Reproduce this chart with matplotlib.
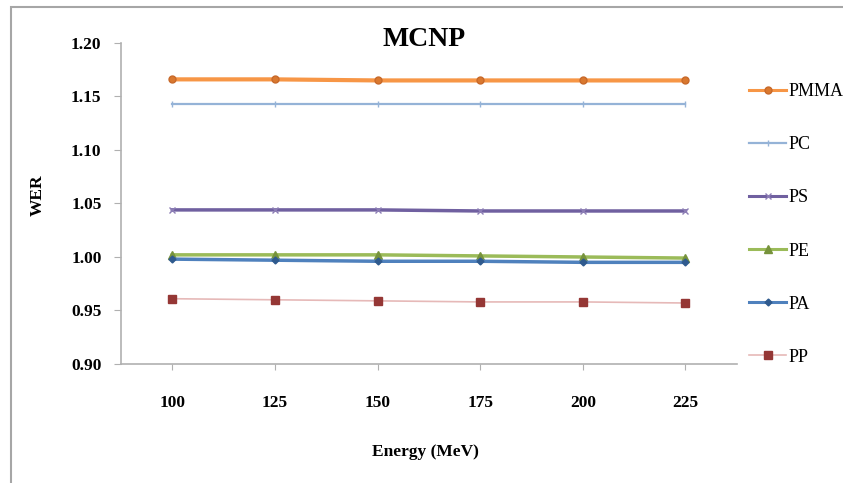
import matplotlib
matplotlib.use("Agg")
import matplotlib.pyplot as plt
from matplotlib.patches import Rectangle

# energies in MeV, shown as categories
energies = ["100", "125", "150", "175", "200", "225"]

pmma = [1.166, 1.166, 1.165, 1.165, 1.165, 1.165]
pc = [1.143, 1.143, 1.143, 1.143, 1.143, 1.143]
ps = [1.044, 1.044, 1.044, 1.043, 1.043, 1.043]
pe = [1.002, 1.002, 1.002, 1.001, 1.000, 0.999]
pa = [0.998, 0.997, 0.996, 0.996, 0.995, 0.995]
pp = [0.961, 0.960, 0.959, 0.958, 0.958, 0.957]

yticks = [0.90, 0.95, 1.00, 1.05, 1.10, 1.15, 1.20]

serif = "Liberation Serif"


def main():
    fig = plt.figure(figsize=(8.43, 4.83), dpi=100)
    ax = fig.add_axes([0.1435, 0.2464, 0.7305, 0.6646])

    # outer chart frame
    fig.patches.append(Rectangle((11 / 843, -0.05), 1.2, 1 - 7 / 483 + 0.05,
                                 transform=fig.transFigure, fill=False,
                                 edgecolor="#a6a6a6", lw=1.5))

    ax.plot(energies, pmma, color="#F79646", lw=3, marker="o", ms=5,
            mfc="#D9782F", mec="#C8692A", label="PMMA")
    ax.plot(energies, pc, color="#95B3D7", lw=1.6, marker="|", ms=5,
            mec="#95B3D7", label="PC")
    ax.plot(energies, ps, color="#7060A0", lw=2.5, marker="x", ms=4,
            mec="#8C7DB5", label="PS")
    ax.plot(energies, pe, color="#9BBB59", lw=2.5, marker="^", ms=6,
            mfc="#77933C", mec="#77933C", label="PE")
    ax.plot(energies, pa, color="#4F81BD", lw=2.5, marker="D", ms=3.5,
            mfc="#2F5A8E", mec="#2F5A8E", label="PA")
    ax.plot(energies, pp, color="#E6B9B8", lw=1.2, marker="s", ms=5.5,
            mfc="#953735", mec="#953735", label="PP")

    ax.set_xlim(-0.5, 5.5)
    ax.set_ylim(0.90, 1.20)
    ax.set_yticks(yticks)
    ax.set_yticklabels(["%.2f" % v for v in yticks])

    for s in ["top", "right"]:
        ax.spines[s].set_visible(False)
    for s in ["left", "bottom"]:
        ax.spines[s].set_color("#b0b0b0")
        ax.spines[s].set_linewidth(1.2)

    ax.tick_params(axis="y", length=5, color="#b0b0b0", pad=9)
    ax.tick_params(axis="x", length=4, color="#b0b0b0", pad=18)
    for lab in ax.get_xticklabels() + ax.get_yticklabels():
        lab.set_fontfamily(serif)
        lab.set_fontweight("bold")
        lab.set_fontsize(12.5)

    fig.text(424 / 843, 1 - 40 / 483, "MCNP", family=serif, weight="bold",
             fontsize=20, ha="center", va="center")
    fig.text(38 / 843, 1 - 195 / 483, "WER", family=serif, weight="bold",
             fontsize=12.5, rotation=90, ha="center", va="center")
    fig.text(425 / 843, 1 - 452 / 483, "Energy (MeV)", family=serif,
             weight="bold", fontsize=12.5, ha="center", va="center")

    leg = ax.legend(loc="upper left", bbox_to_anchor=(742 / 843, 1 - 76 / 483),
                    bbox_transform=fig.transFigure, frameon=False,
                    prop={"family": serif, "size": 13}, handlelength=2.05,
                    handletextpad=0.1, labelspacing=2.0, borderaxespad=0)
    for h in leg.get_lines():
        h.set_linewidth(min(h.get_linewidth(), 2.2))

    fig.savefig("out.png", dpi=100)


if __name__ == "__main__":
    main()
